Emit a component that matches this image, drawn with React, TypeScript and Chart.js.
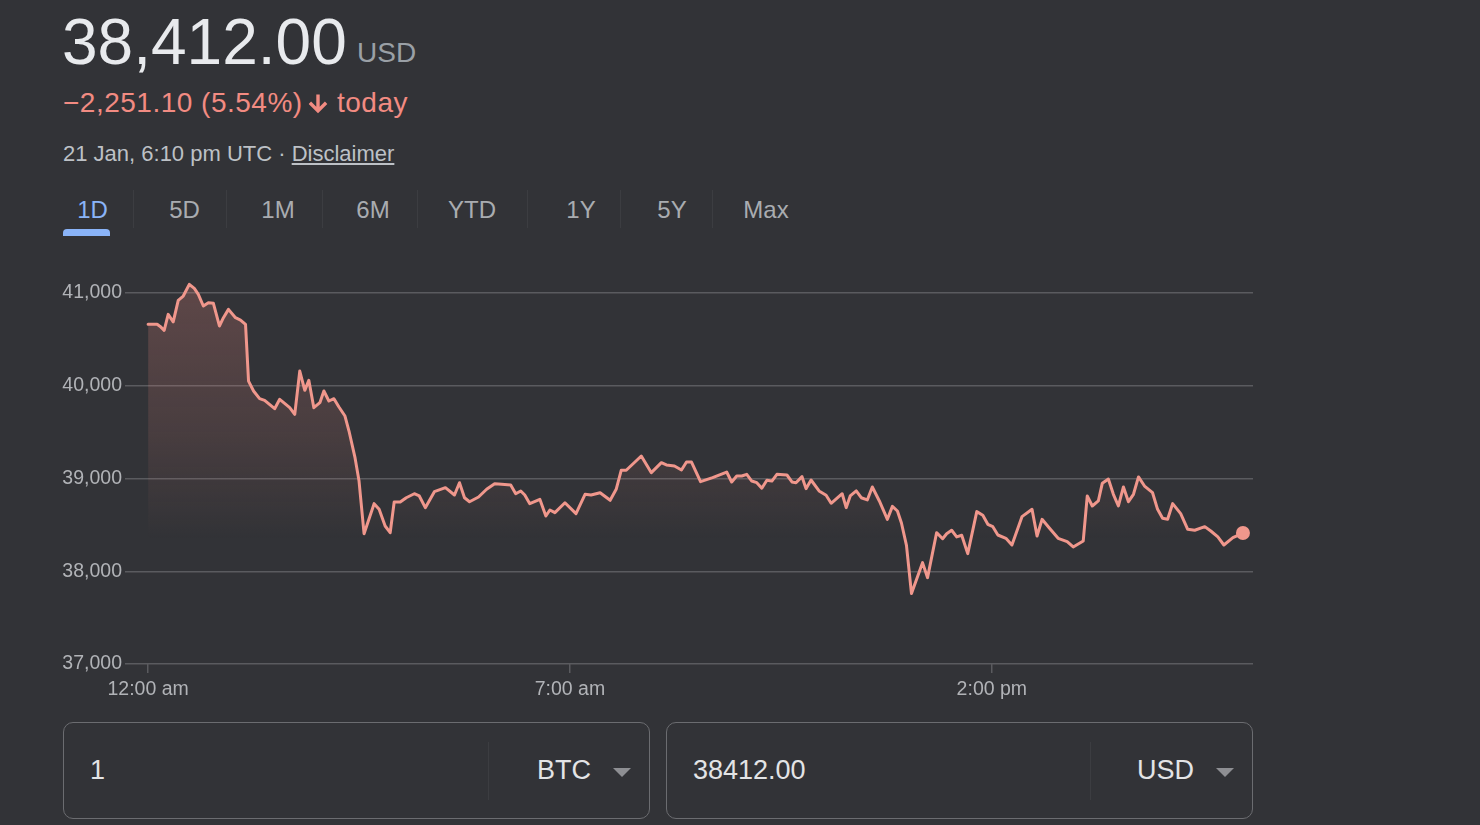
import React, { useEffect, useRef } from 'react';
import { Chart, registerables } from 'chart.js';

Chart.register(...registerables);

// minutes since 12:00 am
const times = [
  0, 9, 12, 16, 20, 25, 30, 35, 41, 46,
  50, 55, 60, 65, 71, 75, 80, 87, 92, 97,
  100, 105, 111, 116, 126, 131, 135, 141, 146, 151,
  156, 160, 165, 171, 175, 180, 185, 190, 196, 200,
  206, 210, 215, 225, 230, 236, 241, 245, 251, 257,
  265, 270, 276, 285, 296, 305, 310, 315, 320, 329,
  337, 345, 352, 361, 366, 371, 375, 380, 390, 396,
  400, 405, 415, 426, 435, 441, 450, 460, 466, 471,
  476, 491, 501, 511, 516, 524, 531, 536, 541, 550,
  562, 576, 581, 586, 591, 596, 601, 606, 611, 616,
  621, 626, 636, 641, 645, 651, 655, 660, 668, 675,
  680, 691, 695, 699, 705, 710, 716, 721, 728, 736,
  741, 746, 750, 755, 760, 771, 776, 785, 791, 795,
  800, 805, 810, 816, 825, 831, 836, 841, 846, 854,
  860, 870, 880, 885, 890, 897, 906, 915, 921, 931,
  935, 940, 946, 950, 956, 961, 966, 971, 976, 981,
  986, 992, 1000, 1005, 1010, 1015, 1020, 1028, 1035, 1042,
  1052, 1058, 1065, 1071, 1080, 1090,
];

const prices = [
  40663, 40663, 40640, 40598, 40770, 40690, 40921, 40968, 41094, 41050,
  40986, 40860, 40896, 40889, 40645, 40734, 40824, 40734, 40709, 40663,
  40051, 39944, 39861, 39843, 39753, 39854, 39818, 39764, 39692, 40159,
  39951, 40059, 39764, 39818, 39944, 39836, 39861, 39771, 39674, 39512,
  39225, 38973, 38405, 38729, 38668, 38488, 38416, 38747, 38747, 38793,
  38836, 38812, 38686, 38858, 38901, 38822, 38955, 38793, 38750, 38801,
  38884, 38944, 38938, 38930, 38836, 38866, 38822, 38729, 38776, 38596,
  38661, 38632, 38739, 38621, 38830, 38822, 38847, 38765, 38884, 39089,
  39089, 39243, 39063, 39171, 39146, 39135, 39092, 39178, 39178, 38966,
  39009, 39070, 38963, 39027, 39027, 39045, 38973, 38955, 38895, 38981,
  38973, 39045, 39038, 38963, 38955, 39020, 38891, 38984, 38866, 38819,
  38733, 38836, 38686, 38812, 38866, 38793, 38769, 38909, 38758, 38560,
  38700, 38650, 38520, 38280, 37759, 38093, 37931, 38416, 38351, 38405,
  38442, 38370, 38388, 38190, 38643, 38604, 38506, 38481, 38391, 38355,
  38283, 38589, 38668, 38380, 38560, 38470, 38355, 38319, 38262, 38327,
  38812, 38704, 38758, 38950, 38995, 38830, 38704, 38909, 38750, 38830,
  39017, 38919, 38847, 38668, 38571, 38560, 38729, 38621, 38452, 38442,
  38481, 38434, 38370, 38283, 38362, 38412,
];

const xTickValues = [0, 420, 840];
const xTickLabels = ['12:00 am', '7:00 am', '2:00 pm'];
const yTickValues = [37000, 38000, 39000, 40000, 41000];
const tabLabels = ['1D', '5D', '1M', '6M', 'YTD', '1Y', '5Y', 'Max'];
const tabCenters = [92.5, 184.5, 278, 373, 472, 581, 672, 766];
const tabSeparators = [133, 226, 322, 417, 527, 620, 712];

const X_MIN = -23;
const X_MAX = 1100;
const Y_MIN = 37000;
const Y_MAX = 41200;

const BG = '#323337';
const FONT = '"Liberation Sans", Arial, Helvetica, sans-serif';
const LINE = '#f0978c';
const RED_TEXT = '#f28b82';
const GRID = '#5a5b5f';
const AXIS_TEXT = '#b1b3b7';

export default function App() {
  const ref = useRef<HTMLCanvasElement>(null);

  useEffect(() => {
    if (!ref.current) return;
    Chart.defaults.font.family = FONT;
    const points = times.map((t, i) => ({ x: t, y: prices[i] }));
    const lastIndex = points.length - 1;
    const chart = new Chart(ref.current, {
      type: 'line',
      data: {
        datasets: [
          {
            data: points,
            borderColor: LINE,
            borderWidth: 3,
            tension: 0,
            borderJoinStyle: 'round',
            borderCapStyle: 'round',
            fill: 'start',
            backgroundColor: (ctx: any) => {
              const c = ctx.chart;
              const area = c.chartArea;
              if (!area) return 'rgba(0,0,0,0)';
              const g = c.ctx.createLinearGradient(0, area.top, 0, area.bottom);
              g.addColorStop(0, 'rgba(242,139,130,0.24)');
              g.addColorStop(0.4, 'rgba(242,139,130,0.12)');
              g.addColorStop(0.68, 'rgba(242,139,130,0.0)');
              g.addColorStop(1, 'rgba(242,139,130,0)');
              return g;
            },
            pointRadius: (ctx: any) => (ctx.dataIndex === lastIndex ? 7 : 0),
            pointHoverRadius: 0,
            pointBackgroundColor: LINE,
            pointBorderWidth: 0,
          } as any,
        ],
      },
      options: {
        responsive: false,
        animation: false,
        devicePixelRatio: 1,
        events: [],
        layout: { padding: { top: 23.5, right: 9, bottom: 0, left: 0 } },
        plugins: {
          legend: { display: false },
          tooltip: { enabled: false },
        },
        scales: {
          x: {
            type: 'linear',
            min: X_MIN,
            max: X_MAX,
            afterBuildTicks: (s: any) => {
              s.ticks = xTickValues.map((v) => ({ value: v }));
            },
            afterFit: (s: any) => {
              s.height = 47;
            },
            grid: {
              display: true,
              drawOnChartArea: false,
              drawTicks: true,
              tickLength: 9,
              color: GRID,
              lineWidth: 1.5,
            },
            border: { display: false },
            ticks: {
              color: AXIS_TEXT,
              font: { size: 19.5 },
              padding: 5,
              maxRotation: 0,
              autoSkip: false,
              callback: (v: any) => {
                const i = xTickValues.indexOf(Number(v));
                return i >= 0 ? xTickLabels[i] : '';
              },
            },
          },
          y: {
            type: 'linear',
            min: Y_MIN,
            max: Y_MAX,
            afterBuildTicks: (s: any) => {
              s.ticks = yTickValues.map((v) => ({ value: v }));
            },
            afterFit: (s: any) => {
              s.width = 63;
            },
            grid: { color: GRID, lineWidth: 1.5, drawTicks: false },
            border: { display: false },
            ticks: {
              color: AXIS_TEXT,
              font: { size: 19.5 },
              padding: 3,
              callback: (v: any) => Number(v).toLocaleString('en-US'),
            },
          },
        },
      } as any,
    });
    return () => chart.destroy();
  }, []);

  const abs = (style: React.CSSProperties): React.CSSProperties => ({
    position: 'absolute',
    lineHeight: 1,
    whiteSpace: 'nowrap',
    ...style,
  });

  return (
    <div
      style={{
        position: 'fixed',
        left: 0,
        top: 0,
        width: 1480,
        height: 825,
        background: BG,
        overflow: 'hidden',
        fontFamily: FONT,
      }}
    >
      <div style={abs({ left: 62, top: 10, fontSize: 64, color: '#e8eaed' })}>38,412.00</div>
      <div style={abs({ left: 357, top: 39, fontSize: 28, color: '#9aa0a6' })}>USD</div>

      <div style={abs({ left: 63, top: 89, fontSize: 28, letterSpacing: 0.5, color: RED_TEXT })}>
        −2,251.10 (5.54%)
      </div>
      <svg
        style={{ position: 'absolute', left: 306, top: 92, width: 24, height: 24 }}
        viewBox="0 0 24 24"
      >
        <path
          fill={RED_TEXT}
          d="M10.3 2.5h3.4v12.2l5.2-5.2 2.4 2.4L12 21.2 2.7 11.9l2.4-2.4 5.2 5.2z"
        />
      </svg>
      <div style={abs({ left: 337, top: 89, fontSize: 28, letterSpacing: 0.5, color: RED_TEXT })}>
        today
      </div>

      <div style={abs({ left: 63, top: 143, fontSize: 22, color: '#bdc1c6' })}>
        21 Jan, 6:10 pm UTC ·{' '}
        <span style={{ textDecoration: 'underline' }}>Disclaimer</span>
      </div>

      {tabLabels.map((t, i) => (
        <div
          key={t}
          style={abs({
            left: tabCenters[i] - 40,
            width: 80,
            textAlign: 'center',
            top: 198,
            fontSize: 24,
            color: i === 0 ? '#8ab4f8' : '#a9acb0',
          })}
        >
          {t}
        </div>
      ))}
      {tabSeparators.map((x) => (
        <div
          key={x}
          style={{
            position: 'absolute',
            left: x,
            top: 190,
            width: 1,
            height: 38,
            background: 'rgba(255,255,255,0.05)',
          }}
        />
      ))}
      <div
        style={{
          position: 'absolute',
          left: 63,
          top: 229,
          width: 47,
          height: 7,
          background: '#8ab4f8',
          borderRadius: '4px 4px 0 0',
        }}
      />

      <canvas
        ref={ref}
        width={1200}
        height={460}
        style={{ position: 'absolute', left: 62, top: 251, width: 1200, height: 460 }}
      />

      {[
        { left: 63, value: '1', unit: 'BTC', unitLeft: 537, divider: 488, tri: 613 },
        { left: 666, value: '38412.00', unit: 'USD', unitLeft: 1137, divider: 1090, tri: 1216 },
      ].map((b) => (
        <React.Fragment key={b.unit}>
          <div
            style={{
              position: 'absolute',
              left: b.left,
              top: 722,
              width: 587,
              height: 97,
              boxSizing: 'border-box',
              border: '1.5px solid #6b6c70',
              borderRadius: 10,
            }}
          />
          <div
            style={{
              position: 'absolute',
              left: b.divider,
              top: 742,
              width: 1,
              height: 58,
              background: 'rgba(255,255,255,0.05)',
            }}
          />
          <div style={abs({ left: b.left + 27, top: 757, fontSize: 27, color: '#e3e4e6' })}>
            {b.value}
          </div>
          <div style={abs({ left: b.unitLeft, top: 757, fontSize: 27, color: '#e3e4e6' })}>
            {b.unit}
          </div>
          <div
            style={{
              position: 'absolute',
              left: b.tri,
              top: 768,
              width: 0,
              height: 0,
              borderLeft: '9px solid transparent',
              borderRight: '9px solid transparent',
              borderTop: '9px solid #8e8f93',
            }}
          />
        </React.Fragment>
      ))}
    </div>
  );
}
